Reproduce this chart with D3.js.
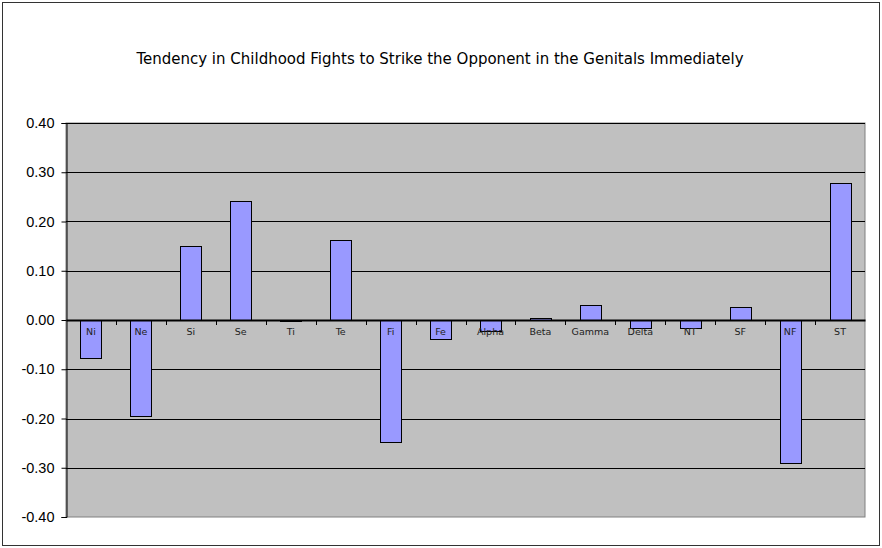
<!DOCTYPE html>
<html>
<head>
<meta charset="utf-8">
<script src="https://cdn.jsdelivr.net/npm/d3@7"></script>
<style>
  body { margin: 0; background: #fff; }
  svg { display: block; }
</style>
</head>
<body>
<svg id="root" width="882" height="548"></svg>
<script>
const categories = ["Ni", "Ne", "Si", "Se", "Ti", "Te", "Fi", "Fe", "Alpha", "Beta", "Gamma", "Delta", "NT", "SF", "NF", "ST"];
const values = [-0.078, -0.195, 0.150, 0.241, -0.002, 0.162, -0.248, -0.039, -0.022, 0.005, 0.030, -0.017, -0.017, 0.026, -0.291, 0.279];
const yTicks = [-0.4, -0.3, -0.2, -0.1, 0, 0.1, 0.2, 0.3, 0.4];
const title = "Tendency in Childhood Fights to Strike the Opponent in the Genitals Immediately";

const svg = d3.select("#root");

const plot = { left: 66, right: 865, top: 123, bottom: 517 };

// outer frame
svg.append("rect")
    .attr("x", 2.5).attr("y", 2.5)
    .attr("width", 877).attr("height", 543)
    .attr("fill", "#fff")
    .attr("stroke", "#333");

svg.append("text")
    .attr("x", 440)
    .attr("y", 64)
    .attr("text-anchor", "middle")
    .style("font-family", "DejaVu Sans")
    .style("font-size", "15px")
    .attr("fill", "#000")
    .text(title);

const x = d3.scaleBand()
    .domain(categories)
    .range([plot.left, plot.right]);

const y = d3.scaleLinear()
    .domain([-0.4, 0.4])
    .range([plot.bottom, plot.top]);

// plot background
svg.append("rect")
    .attr("x", plot.left).attr("y", plot.top)
    .attr("width", plot.right - plot.left)
    .attr("height", plot.bottom - plot.top)
    .attr("fill", "#c0c0c0")
    .attr("stroke", "#808080");

// gridlines
svg.append("g")
    .selectAll("line")
    .data(yTicks.filter(d => d !== 0 && d !== -0.4))
    .join("line")
    .attr("x1", plot.left).attr("x2", plot.right)
    .attr("y1", d => Math.round(y(d)) + 0.5)
    .attr("y2", d => Math.round(y(d)) + 0.5)
    .attr("stroke", "#000");

// y axis
const yAxis = d3.axisLeft(y)
    .tickValues(yTicks)
    .tickSize(5)
    .tickPadding(7)
    .tickFormat(d => d3.format(".2f")(d).replace("\u2212", "-"));

svg.append("g")
    .attr("transform", `translate(${plot.left + 0.5},0)`)
    .call(yAxis)
    .call(g => g.select(".domain").attr("stroke", "#000"))
    .call(g => g.selectAll(".tick line").attr("stroke", "#000"))
    .call(g => g.selectAll("text")
        .style("font-family", "Liberation Sans")
        .style("font-size", "14.5px")
        .attr("fill", "#000"));

// bars
const barW = x.bandwidth() * 0.42;
svg.append("g")
    .selectAll("rect")
    .data(categories.map((c, i) => ({ cat: c, v: values[i] })))
    .join("rect")
    .attr("x", d => Math.round(x(d.cat) + x.bandwidth() / 2 - barW / 2) + 0.5)
    .attr("y", d => Math.round(y(Math.max(0, d.v))) + 0.5)
    .attr("width", Math.round(barW))
    .attr("height", d => Math.max(0.5, Math.abs(Math.round(y(d.v)) - Math.round(y(0)))))
    .attr("fill", "#9999ff")
    .attr("stroke", "#000")
    .attr("stroke-width", 1);

// zero axis with ticks at category boundaries
const xAxis = d3.axisBottom(x)
    .tickSize(0)
    .tickPadding(8);

svg.append("g")
    .attr("transform", `translate(0,${y(0)})`)
    .call(xAxis)
    .call(g => g.select(".domain").attr("stroke", "#000").attr("stroke-width", 2))
    .call(g => g.selectAll("text")
        .style("font-family", "DejaVu Sans")
        .style("font-size", "9.5px")
        .attr("fill", "#222"));

svg.append("g")
    .selectAll("line")
    .data(categories.slice(1))
    .join("line")
    .attr("x1", d => Math.round(x(d)) + 0.5)
    .attr("x2", d => Math.round(x(d)) + 0.5)
    .attr("y1", y(0))
    .attr("y2", y(0) + 5)
    .attr("stroke", "#000");
</script>
</body>
</html>
